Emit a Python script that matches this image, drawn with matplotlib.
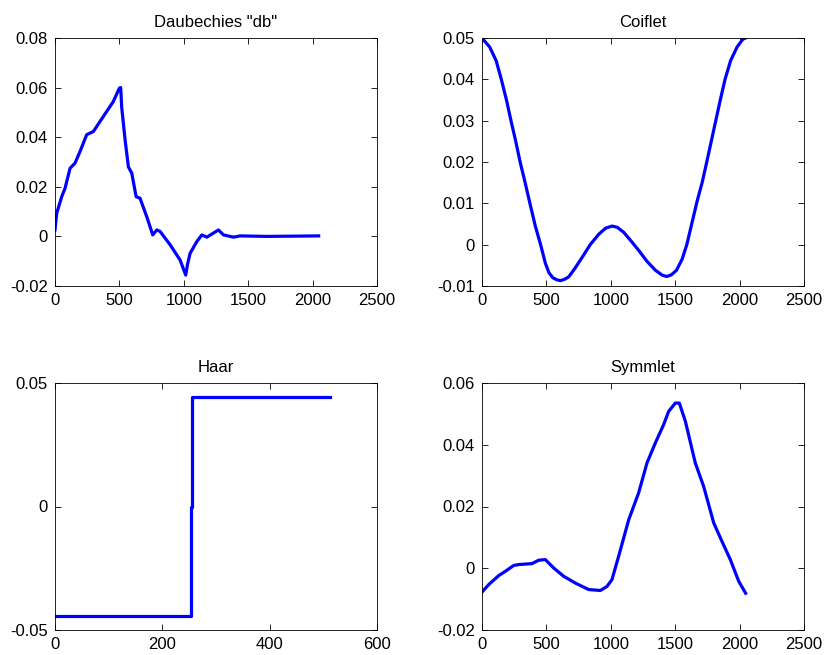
import matplotlib
matplotlib.use("Agg")
import matplotlib.pyplot as plt

plt.rcParams['font.family'] = ['Liberation Sans', 'DejaVu Sans']

# Daubechies "db"
db_x = [0, 13, 52, 78, 117, 155, 194, 246, 298, 376, 453, 500, 510, 518, 544, 570, 596,
        630, 660, 712, 759, 790, 816, 894, 971, 1015, 1028, 1049, 1101, 1140, 1179, 1269,
        1308, 1386, 1438, 1645, 2047]
db_y = [0.0026, 0.0093, 0.016, 0.0194, 0.0275, 0.0295, 0.0342, 0.041, 0.0423, 0.0484,
        0.0544, 0.0598, 0.060, 0.052, 0.039, 0.028, 0.0255, 0.016, 0.0154, 0.008, 0.0006,
        0.0026, 0.002, -0.0034, -0.0095, -0.0156, -0.0115, -0.0068, -0.0021, 0.0006,
        -0.0003, 0.0026, 0.0006, -0.0003, 0.0002, 0.0, 0.0002]

# Coiflet
coif_x = [0, 60, 110, 150, 190, 225, 262, 296, 335, 372, 414, 455, 492, 520, 550, 580,
          609, 640, 673, 720, 777, 840, 906, 960, 1010, 1050, 1100, 1160, 1217, 1280,
          1347, 1400, 1435, 1470, 1510, 1554, 1590, 1632, 1670, 1709, 1745, 1780, 1815,
          1850, 1887, 1930, 1980, 2025, 2047]
coif_y = [0.05, 0.0478, 0.0445, 0.040, 0.035, 0.030, 0.025, 0.020, 0.015, 0.010, 0.0045,
          0.0, -0.0045, -0.0068, -0.0080, -0.0085, -0.0087, -0.0084, -0.0078, -0.0058,
          -0.0031, 0.0, 0.0025, 0.0040, 0.0045, 0.0042, 0.0030, 0.0008, -0.0014, -0.0040,
          -0.0062, -0.0074, -0.0077, -0.0073, -0.0062, -0.0035, 0.0, 0.0055, 0.0105,
          0.0150, 0.020, 0.025, 0.030, 0.035, 0.040, 0.0445, 0.0478, 0.0497, 0.05]

# Haar
haar_x = [0, 254, 254, 256, 256, 512]
haar_y = [-0.0442, -0.0442, 0.0, 0.0, 0.0442, 0.0442]

# Symmlet
sym_x = [0, 52, 129, 181, 246, 285, 388, 440, 492, 556, 634, 725, 828, 919, 970, 1009,
         1061, 1139, 1216, 1281, 1346, 1410, 1449, 1501, 1532, 1579, 1656, 1721, 1799,
         1863, 1928, 1993, 2047]
sym_y = [-0.0077, -0.0053, -0.0024, -0.0010, 0.0009, 0.0012, 0.0015, 0.0026, 0.0028,
         0.0001, -0.0026, -0.0048, -0.0069, -0.0072, -0.0059, -0.0037, 0.0039, 0.0157,
         0.0244, 0.0341, 0.0406, 0.0465, 0.0508, 0.0535, 0.0535, 0.0476, 0.0341, 0.0265,
         0.0147, 0.0087, 0.0028, -0.0042, -0.0081]

panels = [
    ("Daubechies \"db\"", db_x, db_y, (0, 2500), (-0.02, 0.08), [0, 500, 1000, 1500, 2000, 2500],
     [-0.02, 0, 0.02, 0.04, 0.06, 0.08], ['-0.02', '0', '0.02', '0.04', '0.06', '0.08']),
    ("Coiflet", coif_x, coif_y, (0, 2500), (-0.01, 0.05), [0, 500, 1000, 1500, 2000, 2500],
     [-0.01, 0, 0.01, 0.02, 0.03, 0.04, 0.05],
     ['-0.01', '0', '0.01', '0.02', '0.03', '0.04', '0.05']),
    ("Haar", haar_x, haar_y, (0, 600), (-0.05, 0.05), [0, 200, 400, 600],
     [-0.05, 0, 0.05], ['-0.05', '0', '0.05']),
    ("Symmlet", sym_x, sym_y, (0, 2500), (-0.02, 0.06), [0, 500, 1000, 1500, 2000, 2500],
     [-0.02, 0, 0.02, 0.04, 0.06], ['-0.02', '0', '0.02', '0.04', '0.06']),
]

rects = [
    [55/825, 1-286/655, 322/825, 248/655],
    [482/825, 1-286/655, 322/825, 248/655],
    [55/825, 1-630/655, 322/825, 247/655],
    [482/825, 1-630/655, 322/825, 247/655],
]

fig = plt.figure(figsize=(8.25, 6.55), dpi=100)
for rect, (title, x, y, xl, yl, xt, yt, ytl) in zip(rects, panels):
    ax = fig.add_axes(rect)
    ax.plot(x, y, color='#0000ff', linewidth=2.3, solid_joinstyle='round')
    ax.set_xlim(*xl)
    ax.set_ylim(*yl)
    ax.set_xticks(xt)
    ax.set_xticklabels([str(v) for v in xt])
    ax.set_yticks(yt)
    ax.set_yticklabels(ytl)
    ax.tick_params(direction='in', top=True, right=True, labelsize=12, length=4,
                   width=0.6, pad=5)
    for s in ax.spines.values():
        s.set_linewidth(0.6)
    ax.set_title(title, fontsize=12, pad=8)

fig.savefig("out.png", dpi=100)
